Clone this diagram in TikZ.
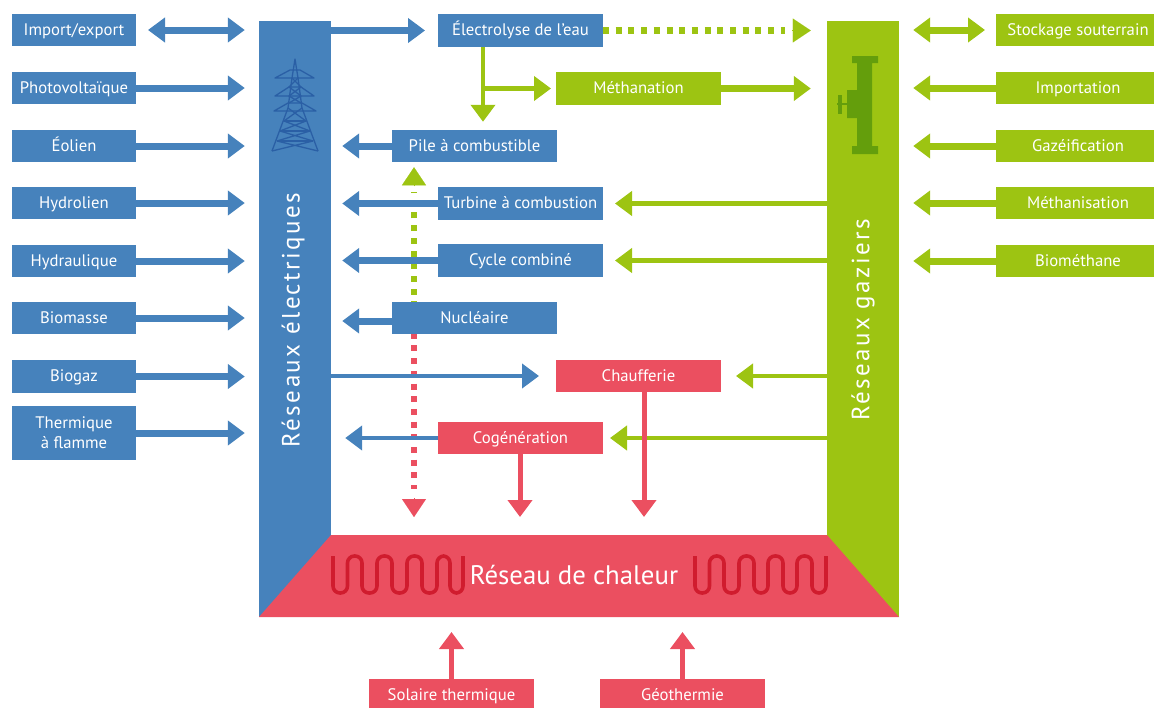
\documentclass[tikz,border=0pt]{standalone}
\usepackage{fontspec}
\setmainfont{PT Sans}
\usetikzlibrary{arrows.meta,positioning}
\definecolor{cblue}{HTML}{4682BC}
\definecolor{cgreen}{HTML}{9DC412}
\definecolor{cred}{HTML}{EB4F60}
\definecolor{dblue}{HTML}{2A5FA5}
\definecolor{dgreen}{HTML}{649E0C}
\definecolor{dred}{HTML}{D01C2E}
\tikzset{
  x=1pt,y=-1pt,
  lab/.style={text=white,font=\fontsize{16.7}{19}\selectfont,align=center,inner sep=0pt,outer sep=0pt,minimum height=32.5pt,anchor=center,text height=13pt,text depth=3pt},
  sbox/.style={lab,minimum width=124pt},
  wbox/.style={lab,minimum width=165pt},
  rbox/.style={lab,minimum width=164pt},
  fb/.style={fill=cblue},fg/.style={fill=cgreen},fr/.style={fill=cred},
  ar/.style={line width=#1,-{Triangle[length=17pt,width=24pt]}},
  ar/.default=7pt,
  dbl/.style={line width=7pt,{Triangle[length=17pt,width=24pt]}-{Triangle[length=17pt,width=24pt]}},
  dots/.style={line width=6.5pt,dash pattern=on 6pt off 6.7pt},
  dothead/.style={line width=0.1pt,-{Triangle[length=18pt,width=24pt]}},
}
\begin{document}
\begin{tikzpicture}
\useasboundingbox (0,0) rectangle (1154,707);
% trunk networks
\node[fb,inner sep=0pt,minimum width=72pt,minimum height=596pt] (elec) at (295,319) {};
\node[fg,inner sep=0pt,minimum width=72pt,minimum height=596pt] (gaz) at (863,319) {};
\node[text=white,rotate=90,font=\fontsize{25}{28}\selectfont\addfontfeatures{LetterSpace=10}] (elabel) at (293,320) {Réseaux électriques};
\node[text=white,rotate=90,font=\fontsize{25}{28}\selectfont\addfontfeatures{LetterSpace=9.5}] (glabel) at (863,320) {Réseaux gaziers};
\fill[cred] (259,617) -- (331,535) -- (827,535) -- (899,617) -- cycle;
\node[text=white,font=\fontsize{26.8}{30}\selectfont] (heat) at (574,575) {Réseau de chaleur};
\coordinate (heattop) at (574,535);
\coordinate (heatbot) at (574,617);
% coils
\draw[dred,line width=3.6pt,rounded corners=7pt]
 (333,556)--(333,593)--(347.5,593)--(347.5,556)--(362,556)--(362,593)--(377,593)--(377,556)--(392,556)--(392,593)--(407,593)--(407,556)--(422,556)--(422,593)--(437,593)--(437,556)--(450,556)--(450,593)--(463,593)--(463,556);
\draw[dred,line width=3.6pt,rounded corners=7pt]
 (695,556)--(695,593)--(709.5,593)--(709.5,556)--(724,556)--(724,593)--(739,593)--(739,556)--(754,556)--(754,593)--(768,593)--(768,556)--(783,556)--(783,593)--(797,593)--(797,556)--(812,556)--(812,593)--(826,593)--(826,556);
% pylon
\begin{scope}[dblue,line width=1.3pt,line join=round]
\draw (272,151)--(288,108)--(292,78)--(295,59)--(298,78)--(302,108)--(318,151);
\draw (275,78)--(314,78)--(300,70)--(290,70)--cycle;
\draw (275,96)--(314,96)--(301,87)--(289,87)--cycle;
\draw (274,111)--(316,111)--(302,103)--(288,103)--cycle;
\draw (284,121)--(306,121) (280,131)--(310,131) (277,141)--(313,141);
\draw (288,108)--(306,121)--(280,131)--(313,141) (302,108)--(284,121)--(310,131)--(277,141);
\draw (272,151)--(313,141) (318,151)--(277,141);
\draw (292,78)--(301,87)--(289,96)--(301,103) (298,78)--(289,87)--(301,96)--(289,103);
\end{scope}
% valve
\fill[dgreen] (852,56) rectangle (878,63) (857,56) rectangle (872,154) (852,146) rectangle (878,154) (847,90) rectangle (860,118);
\draw[dgreen,line width=2.2pt] (837,104)--(848,104);
\draw[dgreen,line width=3.4pt] (840,95)--(840,114);
\coordinate (dtx) at (414,0);
\coordinate (dbot) at (414,517);
% left sources
\node[sbox,fb] (imp) at (74,30) {Import/export};
\node[sbox,fb] (pv) at (74,88) {Photovoltaïque};
\node[sbox,fb] (eol) at (74,146) {Éolien};
\node[sbox,fb] (hyl) at (74,203) {Hydrolien};
\node[sbox,fb] (hyd) at (74,261) {Hydraulique};
\node[sbox,fb] (bio) at (74,318) {Biomasse};
\node[sbox,fb] (bgz) at (74,376.5) {Biogaz};
\node[sbox,fb,minimum height=54pt,text height=,text depth=] (thf) at (74,433) {Thermique\\[1pt]à flamme};
% right sources
\node[rbox,fg] (sto) at (1078,30) {Stockage souterrain};
\node[rbox,fg] (ipt) at (1078,88) {Importation};
\node[rbox,fg] (gzf) at (1078,146) {Gazéification};
\node[rbox,fg] (mts) at (1078,203) {Méthanisation};
\node[rbox,fg] (bmt) at (1078,261) {Biométhane};
% dotted lines first (under boxes)
\coordinate (nucpt) at (414,320);
\node[wbox,fb] (pile) at (474.5,146) {Pile à combustible};
\draw[dots,cgreen,shorten >=30pt] (nucpt) -- (dtx |- pile.south);
\draw[dothead,cgreen,shorten >=5pt] ([yshift=-24pt]dtx |- pile.south) -- (dtx |- pile.south);
\draw[dots,cred] (nucpt) -- ([yshift=28pt]dbot);
\draw[dothead,cred] ([yshift=19pt]dbot) -- (dbot);
% centre boxes
\node[wbox,fb] (ely) at (520.5,30.5) {Électrolyse de l'eau};
\node[wbox,fg] (met) at (638.5,88.5) {Méthanation};
\node[wbox,fb] (tur) at (520.5,203.5) {Turbine à combustion};
\node[wbox,fb] (cyc) at (520.5,260.5) {Cycle combiné};
\node[wbox,fb] (nuc) at (474.5,318) {Nucléaire};
\node[wbox,fr] (cha) at (638.5,376) {Chaufferie};
\node[wbox,fr] (cog) at (520.5,438) {Cogénération};
\node[wbox,fr] (sol) at (451.5,695.5) {Solaire thermique};
\node[wbox,fr] (geo) at (682.5,695.5) {Géothermie};
% source arrows
\begin{scope}[cblue]
\draw[dbl,shorten >=14pt,shorten <=12pt] (imp.east) -- (elec.west |- imp.east);
\foreach \n in {pv,eol,hyl,hyd,bio,bgz,thf} \draw[ar,shorten >=14pt] (\n.east) -- (elec.west |- \n.east);
\draw[ar,shorten >=13pt] (elec.east |- ely.west) -- (ely.west);
\draw[ar,shorten >=11pt] (pile.west) -- (elec.east |- pile.west);
\draw[ar,shorten >=11pt] (tur.west) -- (elec.east |- tur.west);
\draw[ar,shorten >=11pt] (cyc.west) -- (elec.east |- cyc.west);
\draw[ar,shorten >=11pt] ([yshift=-3pt]nuc.west) -- ([yshift=-3pt]elec.east |- nuc.west);
\draw[ar=4.5pt,shorten >=17pt] (elec.east |- cha.west) -- (cha.west);
\draw[ar=4.5pt,shorten >=14pt] (cog.west) -- (elec.east |- cog.west);
\end{scope}
\begin{scope}[cgreen]
\draw[dbl,shorten >=11pt,shorten <=14pt] (gaz.east |- sto.west) -- (sto.west);
\foreach \n in {ipt,gzf,mts,bmt} \draw[ar,shorten >=14pt] (\n.west) -- (gaz.east |- \n.west);
\draw[dots,shorten >=42pt] (ely.east) -- (gaz.west |- ely.east);
\draw[dothead,shorten >=16pt] ([xshift=-35pt]gaz.west |- ely.east) -- (gaz.west |- ely.east);
\draw[ar,shorten >=16pt] (met.east) -- (gaz.west |- met.east);
\coordinate (elx) at (483,0);
\draw[ar=4.5pt,shorten >=8pt] (ely.south -| elx) -- (pile.north -| elx);
\draw[ar=4.5pt,shorten >=5pt] (met.west -| elx) -- (met.west);
\draw[ar=4.5pt,shorten >=12pt] (gaz.west |- tur.east) -- (tur.east);
\draw[ar=4.5pt,shorten >=12pt] (gaz.west |- cyc.east) -- (cyc.east);
\draw[ar=4.5pt,shorten >=15pt] (gaz.west |- cha.east) -- (cha.east);
\draw[ar=4.5pt,shorten >=7pt] (gaz.west |- cog.east) -- (cog.east);
\end{scope}
\begin{scope}[cred]
\coordinate (chx) at (644,0);
\coordinate (cgx) at (520,0);
\draw[ar=5pt,shorten >=18pt] (cha.south -| chx) -- (heattop -| chx);
\draw[ar=5pt,shorten >=18pt] (cog.south -| cgx) -- (heattop -| cgx);
\draw[ar=5pt,shorten >=15pt] (sol.north) -- (heatbot -| sol.north);
\draw[ar=5pt,shorten >=15pt] (geo.north) -- (heatbot -| geo.north);
\end{scope}
\end{tikzpicture}
\end{document}
